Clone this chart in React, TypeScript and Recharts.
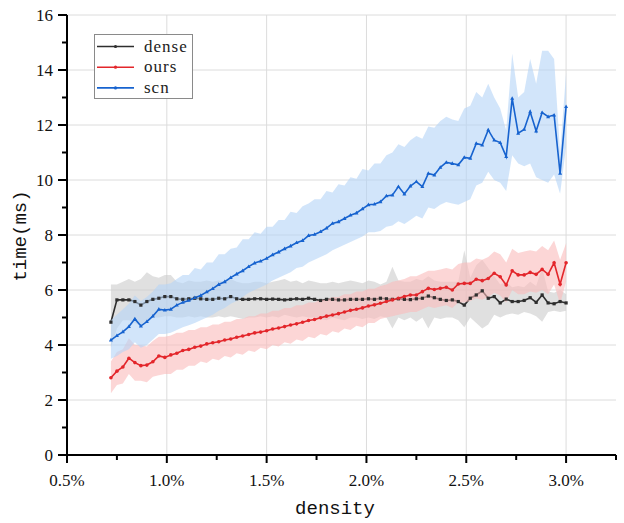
import React from "react";
import {
  Area,
  CartesianGrid,
  ComposedChart,
  Label,
  Legend,
  Line,
  XAxis,
  YAxis,
} from "recharts";

// density (%) of each measurement
const densities = [
  0.72, 0.75, 0.78, 0.81, 0.84, 0.87, 0.9, 0.93, 0.96, 0.99, 1.02, 1.05, 1.08,
  1.11, 1.14, 1.17, 1.2, 1.23, 1.26, 1.29, 1.32, 1.35, 1.38, 1.41, 1.44, 1.47,
  1.5, 1.53, 1.56, 1.59, 1.62, 1.65, 1.68, 1.71, 1.74, 1.77, 1.8, 1.83, 1.86,
  1.89, 1.92, 1.95, 1.98, 2.01, 2.04, 2.07, 2.1, 2.13, 2.16, 2.19, 2.22, 2.25,
  2.28, 2.31, 2.34, 2.37, 2.4, 2.43, 2.46, 2.49, 2.52, 2.55, 2.58, 2.61, 2.64,
  2.67, 2.7, 2.73, 2.76, 2.79, 2.82, 2.85, 2.88, 2.91, 2.94, 2.97, 3.0,
];

// dense
const denseTime = [
  4.83, 5.64, 5.64, 5.64, 5.58, 5.45, 5.58, 5.66, 5.7, 5.76, 5.76, 5.68, 5.66,
  5.68, 5.7, 5.68, 5.66, 5.66, 5.7, 5.68, 5.76, 5.68, 5.66, 5.66, 5.68, 5.68,
  5.66, 5.67, 5.66, 5.64, 5.66, 5.68, 5.66, 5.7, 5.66, 5.62, 5.66, 5.66, 5.64,
  5.64, 5.66, 5.66, 5.66, 5.68, 5.66, 5.7, 5.68, 5.66, 5.68, 5.66, 5.65, 5.68,
  5.7, 5.78, 5.72, 5.66, 5.62, 5.64, 5.58, 5.45, 5.7, 5.82, 5.97, 5.7, 5.76,
  5.53, 5.67, 5.58, 5.58, 5.62, 5.72, 5.55, 5.82, 5.53, 5.5, 5.58, 5.53,
];
const denseLo = [
  3.9, 4.6, 4.9, 4.9, 4.8, 4.7, 4.9, 5.0, 5.0, 5.05, 5.05, 5.0, 5.0, 5.05, 5.0,
  5.05, 5.0, 5.0, 5.05, 5.0, 5.05, 5.0, 4.95, 5.0, 5.0, 5.05, 5.0, 5.05, 5.0,
  5.1, 5.05, 5.0, 5.05, 5.0, 5.0, 4.95, 4.9, 5.0, 4.95, 4.9, 5.0, 5.0, 4.95,
  5.0, 4.95, 5.05, 5.0, 4.6, 5.0, 4.9, 5.0, 4.85, 5.0, 4.6, 5.0, 4.95, 5.0, 5.0,
  4.9, 4.65, 5.0, 4.8, 4.6, 4.75, 5.1, 5.0, 5.1, 5.15, 5.1, 5.2, 5.15, 5.05,
  4.85, 5.2, 5.25, 5.2, 5.25,
];
const denseHi = [
  6.2, 6.2, 6.3, 6.4, 6.3, 6.4, 6.65, 6.5, 6.45, 6.55, 6.55, 6.3, 6.25, 6.35,
  6.3, 6.3, 6.35, 6.3, 6.35, 6.3, 6.4, 6.3, 6.25, 6.25, 6.3, 6.3, 6.25, 6.3,
  6.35, 6.4, 6.3, 6.35, 6.25, 6.35, 6.3, 6.25, 6.25, 6.3, 6.25, 6.3, 6.35, 6.3,
  6.25, 6.35, 6.3, 6.2, 6.3, 6.85, 6.35, 6.3, 6.3, 6.4, 6.35, 6.5, 6.35, 6.3,
  6.3, 6.3, 6.3, 7.45, 6.45, 6.9, 7.1, 6.8, 6.5, 6.2, 6.3, 6.1, 6.15, 6.1, 6.3,
  6.15, 6.8, 5.95, 5.9, 6.0, 5.85,
];

// ours
const oursTime = [
  2.81, 3.05, 3.2, 3.52, 3.36, 3.25, 3.27, 3.39, 3.6, 3.55, 3.64, 3.7, 3.8,
  3.84, 3.92, 3.96, 4.04, 4.08, 4.12, 4.18, 4.22, 4.28, 4.33, 4.38, 4.44, 4.47,
  4.52, 4.58, 4.62, 4.67, 4.73, 4.77, 4.83, 4.89, 4.93, 4.99, 5.05, 5.09, 5.14,
  5.2, 5.26, 5.3, 5.35, 5.42, 5.46, 5.52, 5.58, 5.64, 5.7, 5.76, 5.82, 5.82,
  5.94, 6.06, 6.02, 6.06, 6.1, 6.0, 6.22, 6.24, 6.24, 6.39, 6.34, 6.42, 6.61,
  6.48, 6.18, 6.7, 6.55, 6.55, 6.64, 6.57, 6.75, 6.57, 6.99, 6.21, 6.99,
];
const oursLo = [
  2.25, 2.55, 2.6, 2.95, 2.7, 2.7, 2.65, 2.85, 2.9, 2.95, 2.95, 3.1, 3.1, 3.25,
  3.25, 3.4, 3.35, 3.5, 3.45, 3.6, 3.55, 3.7, 3.65, 3.8, 3.75, 3.9, 3.85, 4.0,
  3.95, 4.1, 4.05, 4.2, 4.15, 4.3, 4.25, 4.4, 4.35, 4.5, 4.45, 4.6, 4.55, 4.7,
  4.65, 4.8, 4.8, 4.95, 5.0, 5.05, 5.1, 5.15, 5.2, 5.2, 5.3, 5.4, 5.35, 5.4,
  5.45, 5.35, 5.55, 5.55, 5.6, 5.7, 5.65, 5.75, 5.9, 5.8, 5.55, 6.0, 5.85, 5.85,
  5.95, 5.9, 6.0, 5.85, 6.2, 5.5, 6.3,
];
const oursHi = [
  3.4, 3.75, 3.85, 4.25, 4.0, 4.0, 3.95, 4.15, 4.3, 4.3, 4.35, 4.45, 4.45, 4.55,
  4.55, 4.65, 4.65, 4.75, 4.75, 4.85, 4.85, 4.95, 4.95, 5.05, 5.05, 5.15, 5.15,
  5.25, 5.25, 5.35, 5.35, 5.45, 5.45, 5.55, 5.55, 5.65, 5.65, 5.75, 5.75, 5.85,
  5.85, 5.95, 5.95, 6.05, 6.05, 6.15, 6.2, 6.3, 6.35, 6.4, 6.5, 6.5, 6.6, 6.7,
  6.7, 6.75, 6.8, 6.75, 6.95, 7.0, 7.0, 7.15, 7.1, 7.2, 7.4, 7.3, 7.0, 7.5,
  7.35, 7.4, 7.45, 7.4, 7.6, 7.45, 7.8, 7.1, 7.7,
];

// scn
const scnTime = [
  4.18, 4.34, 4.48, 4.67, 4.95, 4.69, 4.85, 5.05, 5.3, 5.27, 5.3, 5.45, 5.55,
  5.62, 5.72, 5.8, 5.93, 6.05, 6.2, 6.3, 6.45, 6.58, 6.7, 6.85, 6.98, 7.05,
  7.15, 7.28, 7.38, 7.5, 7.6, 7.72, 7.8, 7.98, 8.02, 8.12, 8.25, 8.42, 8.48,
  8.6, 8.72, 8.8, 8.95, 9.1, 9.12, 9.21, 9.42, 9.45, 9.76, 9.49, 9.78, 9.94,
  9.76, 10.24, 10.18, 10.46, 10.64, 10.6, 10.55, 10.82, 10.79, 11.33, 11.27,
  11.82, 11.45, 11.36, 10.85, 12.97, 11.7, 11.84, 12.48, 11.78, 12.45, 12.3,
  12.36, 10.24, 12.67,
];
const scnLo = [
  3.5, 3.6, 3.75, 3.85, 4.1, 3.9, 4.0, 4.2, 4.4, 4.4, 4.45, 4.55, 4.65, 4.72,
  4.8, 4.9, 5.0, 5.1, 5.25, 5.35, 5.5, 5.6, 5.75, 5.9, 6.0, 6.1, 6.2, 6.35,
  6.45, 6.55, 6.65, 6.8, 6.85, 7.0, 7.1, 7.2, 7.3, 7.45, 7.55, 7.65, 7.75, 7.85,
  7.95, 8.1, 8.1, 8.15, 8.3, 8.35, 8.5, 8.4, 8.55, 8.7, 8.6, 9.0, 8.95, 9.1,
  9.2, 9.15, 9.1, 9.2, 9.3, 9.8, 9.9, 10.3, 10.0, 9.9, 9.6, 10.9, 10.6, 10.5,
  10.6, 10.1, 10.0, 9.9, 10.2, 9.5, 11.2,
];
const scnHi = [
  4.9, 5.1, 5.3, 5.5, 5.8, 5.6, 5.75, 5.95, 6.2, 6.2, 6.25, 6.4, 6.55, 6.55,
  6.8, 6.75, 7.0, 7.0, 7.3, 7.3, 7.5, 7.55, 7.85, 7.85, 8.1, 8.05, 8.3, 8.3,
  8.55, 8.55, 8.85, 8.8, 9.05, 9.15, 9.3, 9.3, 9.6, 9.55, 9.85, 9.8, 10.1,
  10.05, 10.4, 10.35, 10.6, 10.6, 10.9, 11.0, 11.3, 11.2, 11.45, 11.6, 11.5,
  11.95, 11.9, 12.15, 12.3, 12.2, 12.15, 12.6, 12.7, 13.2, 13.0, 13.5, 13.0,
  12.6, 11.8, 14.6, 13.0, 13.2, 14.4, 13.5, 14.7, 14.7, 14.4, 11.0, 13.9,
];

const xTicks = [0.5, 0.75, 1, 1.25, 1.5, 1.75, 2, 2.25, 2.5, 2.75, 3, 3.25];
const yTicks = [0, 1, 2, 3, 4, 5, 6, 7, 8, 9, 10, 11, 12, 13, 14, 15, 16];
const xGrid = [1, 1.5, 2, 2.5, 3];
const yGrid = [2, 4, 6, 8, 10, 12, 14, 16];

const data = densities.map((d, i) => ({
  density: d,
  dense: denseTime[i],
  denseBand: [denseLo[i], denseHi[i]],
  ours: oursTime[i],
  oursBand: [oursLo[i], oursHi[i]],
  scn: scnTime[i],
  scnBand: [scnLo[i], scnHi[i]],
}));

const DENSE = "#2e2e2e";
const OURS = "#e3262b";
const SCN = "#1763cf";
const SERIF = "'Liberation Serif', serif";
const MONO = "'Liberation Mono', monospace";

function YTick({ x, y, payload }: any) {
  const major = payload.value % 2 === 0;
  return (
    <g>
      <line x1={x} x2={x - (major ? 9 : 5)} y1={y} y2={y} stroke="#000" strokeWidth={2} />
      {major && (
        <text x={x - 14} y={y + 6} textAnchor="end" fontFamily={SERIF} fontSize={17} fill="#111">
          {payload.value}
        </text>
      )}
    </g>
  );
}

function XTick({ x, y, payload }: any) {
  const v = payload.value;
  const major = Math.abs(v * 2 - Math.round(v * 2)) < 1e-6;
  return (
    <g>
      <line x1={x} x2={x} y1={y} y2={y + (major ? 8 : 5)} stroke="#000" strokeWidth={2} />
      {major && (
        <text x={x} y={y + 31} textAnchor="middle" fontFamily={SERIF} fontSize={17} fill="#111">
          {`${v.toFixed(1)}%`}
        </text>
      )}
    </g>
  );
}

const squareDot = (props: any) => {
  const { cx, cy, index } = props;
  if (cx == null || cy == null) return <g key={index} />;
  return <rect key={index} x={cx - 1.6} y={cy - 1.6} width={3.2} height={3.2} fill={DENSE} />;
};
const circleDot = (props: any) => {
  const { cx, cy, index } = props;
  if (cx == null || cy == null) return <g key={index} />;
  return <circle key={index} cx={cx} cy={cy} r={1.8} fill={OURS} />;
};
const triDot = (props: any) => {
  const { cx, cy, index } = props;
  if (cx == null || cy == null) return <g key={index} />;
  return (
    <path key={index} d={`M${cx},${cy - 2.2}L${cx + 2},${cy + 1.4}L${cx - 2},${cy + 1.4}Z`} fill={SCN} />
  );
};

function LegendBox({ payload }: any) {
  const items = (payload ?? []).filter((p: any) => p.type !== "none");
  return (
    <svg width={100} height={66} style={{ display: "block" }}>
      <rect x={0.5} y={0.5} width={98} height={64} fill="#fff" stroke="#8a8a8a" />
      {items.map((p: any, i: number) => {
        const cy = 12.5 + i * 20.7;
        return (
          <g key={p.value}>
            <line x1={3} x2={40} y1={cy} y2={cy} stroke={p.color} strokeWidth={1.6} />
            <circle cx={21.5} cy={cy} r={1.6} fill={p.color} />
            <text x={50} y={cy + 5} fontFamily={SERIF} fontSize={17} letterSpacing={1} fill="#222">
              {p.value}
            </text>
          </g>
        );
      })}
    </svg>
  );
}

export default function App() {
  return (
    <div style={{ position: "absolute", left: 0, top: 0, width: 624, height: 523, background: "#fff" }}>
      <ComposedChart width={624} height={523} data={data} margin={{ top: 15, right: 8, bottom: 0, left: 0 }}>
        <CartesianGrid stroke="#dcdcdc" horizontalValues={yGrid} verticalValues={xGrid} />
        <XAxis
          dataKey="density"
          type="number"
          domain={[0.5, 3.25]}
          ticks={xTicks}
          interval={0}
          height={68}
          tickSize={0}
          tickMargin={0}
          tickLine={false}
          tick={<XTick />}
          axisLine={{ stroke: "#000", strokeWidth: 2 }}
          allowDataOverflow
        >
          <Label
            content={() => (
              <text x={335} y={514} textAnchor="middle" fontFamily={MONO} fontSize={19} fill="#111">
                density
              </text>
            )}
          />
        </XAxis>
        <YAxis
          type="number"
          domain={[0, 16]}
          ticks={yTicks}
          interval={0}
          width={67}
          tickSize={0}
          tickMargin={0}
          tickLine={false}
          tick={<YTick />}
          axisLine={{ stroke: "#000", strokeWidth: 2 }}
          allowDataOverflow
        >
          <Label
            content={() => (
              <text
                x={26}
                y={236}
                transform="rotate(-90 26 236)"
                textAnchor="middle"
                fontFamily={MONO}
                fontSize={19}
                fill="#111"
              >
                time(ms)
              </text>
            )}
          />
        </YAxis>
        <Legend
          layout="vertical"
          align="center"
          verticalAlign="middle"
          wrapperStyle={{ left: 94, top: 34, width: 100, height: 66 }}
          content={<LegendBox />}
        />
        <Area
          type="linear"
          dataKey="denseBand"
          stroke="none"
          fill="#cbcbcb"
          fillOpacity={0.6}
          legendType="none"
          activeDot={false}
          isAnimationActive={false}
          zIndex={100}
        />
        <Line
          type="linear"
          dataKey="dense"
          name="dense"
          stroke={DENSE}
          strokeWidth={1.6}
          dot={squareDot}
          activeDot={false}
          isAnimationActive={false}
          zIndex={101}
        />
        <Area
          type="linear"
          dataKey="oursBand"
          stroke="none"
          fill="#fabbbb"
          fillOpacity={0.6}
          legendType="none"
          activeDot={false}
          isAnimationActive={false}
          zIndex={102}
        />
        <Line
          type="linear"
          dataKey="ours"
          name="ours"
          stroke={OURS}
          strokeWidth={1.6}
          dot={circleDot}
          activeDot={false}
          isAnimationActive={false}
          zIndex={103}
        />
        <Area
          type="linear"
          dataKey="scnBand"
          stroke="none"
          fill="#b4d4f7"
          fillOpacity={0.6}
          legendType="none"
          activeDot={false}
          isAnimationActive={false}
          zIndex={104}
        />
        <Line
          type="linear"
          dataKey="scn"
          name="scn"
          stroke={SCN}
          strokeWidth={1.6}
          dot={triDot}
          activeDot={false}
          isAnimationActive={false}
          zIndex={105}
        />
      </ComposedChart>
    </div>
  );
}
